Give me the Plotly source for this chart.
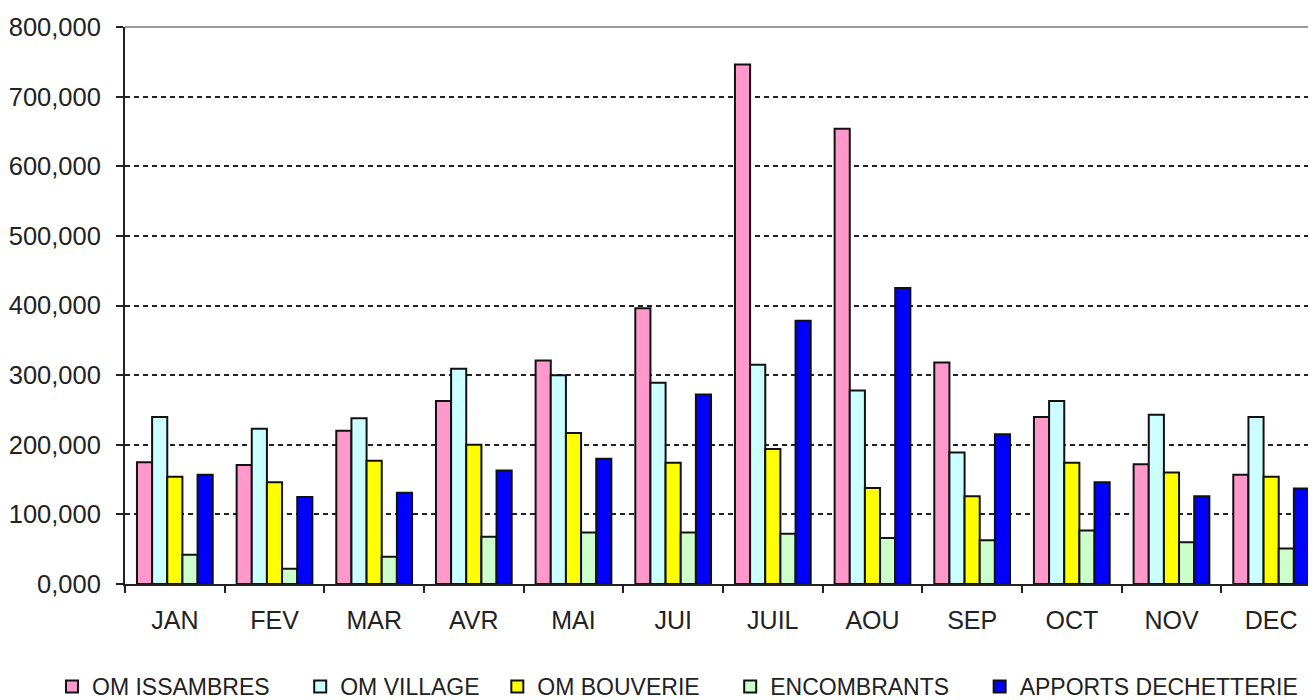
import plotly.graph_objects as go

months = ["JAN", "FEV", "MAR", "AVR", "MAI", "JUI", "JUIL", "AOU", "SEP", "OCT", "NOV", "DEC"]

om_issambres = [175, 171, 220, 263, 321, 396, 746, 654, 318, 240, 172, 157]
om_village = [240, 223, 238, 309, 300, 289, 315, 278, 189, 263, 243, 240]
om_bouverie = [154, 146, 177, 200, 217, 174, 194, 138, 126, 174, 160, 154]
encombrants = [42, 22, 39, 68, 74, 74, 72, 66, 63, 77, 60, 51]
apports_dechetterie = [157, 125, 131, 163, 180, 272, 378, 425, 215, 146, 126, 137]

series_names = ["OM ISSAMBRES", "OM VILLAGE", "OM BOUVERIE", "ENCOMBRANTS", "APPORTS DECHETTERIE"]
series_values = [om_issambres, om_village, om_bouverie, encombrants, apports_dechetterie]
series_colors = ["#FF99CC", "#CCFFFF", "#FFFF00", "#CCFFCC", "#0000FF"]

y_tickvals = [0, 100, 200, 300, 400, 500, 600, 700, 800]
y_ticktext = ["0,000", "100,000", "200,000", "300,000", "400,000", "500,000", "600,000", "700,000", "800,000"]

FONT = "Liberation Sans, Arial, sans-serif"
legend_pad = [4, 2, 4, 4, 0]  # trailing spacing after each legend label

fig = go.Figure()
for name, vals, col, pad in zip(series_names, series_values, series_colors, legend_pad):
    fig.add_trace(go.Bar(
        x=months, y=vals, name=name + "\u00a0" * pad,
        marker=dict(color=col, line=dict(color="#111111", width=2)),
    ))

fig.update_layout(
    width=1316, height=700,
    margin=dict(l=117, r=8, t=19, b=124, autoexpand=False),
    paper_bgcolor="white", plot_bgcolor="white",
    barmode="group", bargap=0.24, bargroupgap=0,
    font=dict(family=FONT, size=23, color="#222222"),
    showlegend=True,
    legend=dict(
        orientation="h", xref="paper", yref="paper",
        x=-0.0613, y=-0.2226, xanchor="left", yanchor="bottom",
        font=dict(family=FONT, size=23, color="#222222"),
        itemwidth=30, tracegroupgap=0,
    ),
    xaxis=dict(
        range=[-0.5, 11.45], automargin=False,
        showline=True, linecolor="#222222", linewidth=2,
        ticks="outside", tickson="boundaries", ticklen=7, tickwidth=2, tickcolor="#222222",
        ticklabelstandoff=13,
        showgrid=False, zeroline=False,
        tickfont=dict(family=FONT, size=25, color="#222222"),
    ),
    yaxis=dict(
        range=[0, 800], automargin=False,
        tickvals=y_tickvals, ticktext=y_ticktext,
        showline=True, linecolor="#222222", linewidth=2,
        ticks="outside", ticklen=7, tickwidth=2, tickcolor="#222222",
        ticklabelstandoff=10,
        showgrid=True, gridcolor="#222222", gridwidth=2, griddash="5px,4px",
        zeroline=False,
        tickfont=dict(family=FONT, size=25.5, color="#222222"),
    ),
    shapes=[dict(type="line", xref="paper", yref="paper", x0=0, x1=1, y0=1, y1=1,
                 line=dict(color="#999999", width=2), layer="above")],
)

fig.write_html("out.html")
